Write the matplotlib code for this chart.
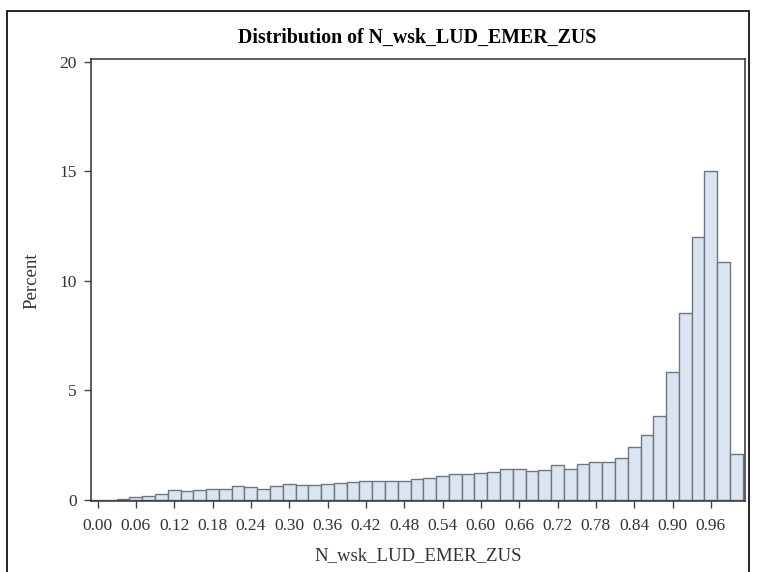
import numpy as np
import matplotlib
matplotlib.use("Agg")
import matplotlib.pyplot as plt
from matplotlib.patches import Rectangle

# bin midpoints (width 0.02) and percent per bin
midpoints = [round(0.02 * i, 2) for i in range(51)]
percent = [0.00, 0.01, 0.04, 0.12, 0.18, 0.26, 0.44, 0.39, 0.47, 0.52,
           0.51, 0.64, 0.57, 0.51, 0.62, 0.71, 0.67, 0.67, 0.73, 0.79,
           0.81, 0.87, 0.88, 0.88, 0.88, 0.97, 1.00, 1.10, 1.17, 1.19,
           1.22, 1.26, 1.40, 1.40, 1.32, 1.35, 1.58, 1.40, 1.64, 1.74,
           1.74, 1.92, 2.42, 2.98, 3.84, 5.83, 8.52, 12.02, 15.02, 10.85,
           2.09]
xticks = [0.00, 0.06, 0.12, 0.18, 0.24, 0.30, 0.36, 0.42, 0.48, 0.54,
          0.60, 0.66, 0.72, 0.78, 0.84, 0.90, 0.96]
yticks = [0, 5, 10, 15, 20]

plt.rcParams['font.family'] = ['Liberation Serif', 'DejaVu Serif']

fig = plt.figure(figsize=(7.58, 5.72), dpi=100)
ax = fig.add_axes([0.1197, 0.1241, 0.8632, 0.7719])

ax.bar(midpoints, percent, width=0.02, color='#dbe5f1', edgecolor='#6e7680',
       linewidth=1.0, align='center')

ax.set_xlim(-0.0106, 1.0135)
ax.set_ylim(-0.05, 20.1)
ax.set_xticks(xticks)
ax.set_xticklabels(['%.2f' % t for t in xticks])
ax.set_yticks(yticks)
ax.tick_params(direction='out', length=5, width=1, colors='#444444',
               labelsize=12.5, labelcolor='#333333')
ax.tick_params(axis='x', pad=7)
ax.tick_params(axis='y', pad=5)
for s in ax.spines.values():
    s.set_color('#333333')
    s.set_linewidth(1.1)

ax.set_xlabel('N_wsk_LUD_EMER_ZUS', fontsize=13.5, color='#333333', labelpad=10)
ax.set_ylabel('Percent', fontsize=13.5, color='#333333', labelpad=14)
fig.text(0.551, 0.934, 'Distribution of N_wsk_LUD_EMER_ZUS', ha='center',
         va='center', fontsize=14.3, fontweight='bold')

# outer border of the graph
fig.patches.append(Rectangle((6.5 / 758, -0.05), (749 - 6.5) / 758, 1.05 - 10.7 / 572,
                             transform=fig.transFigure, fill=False,
                             edgecolor='black', linewidth=1.2))

fig.savefig('out.png', dpi=100)
